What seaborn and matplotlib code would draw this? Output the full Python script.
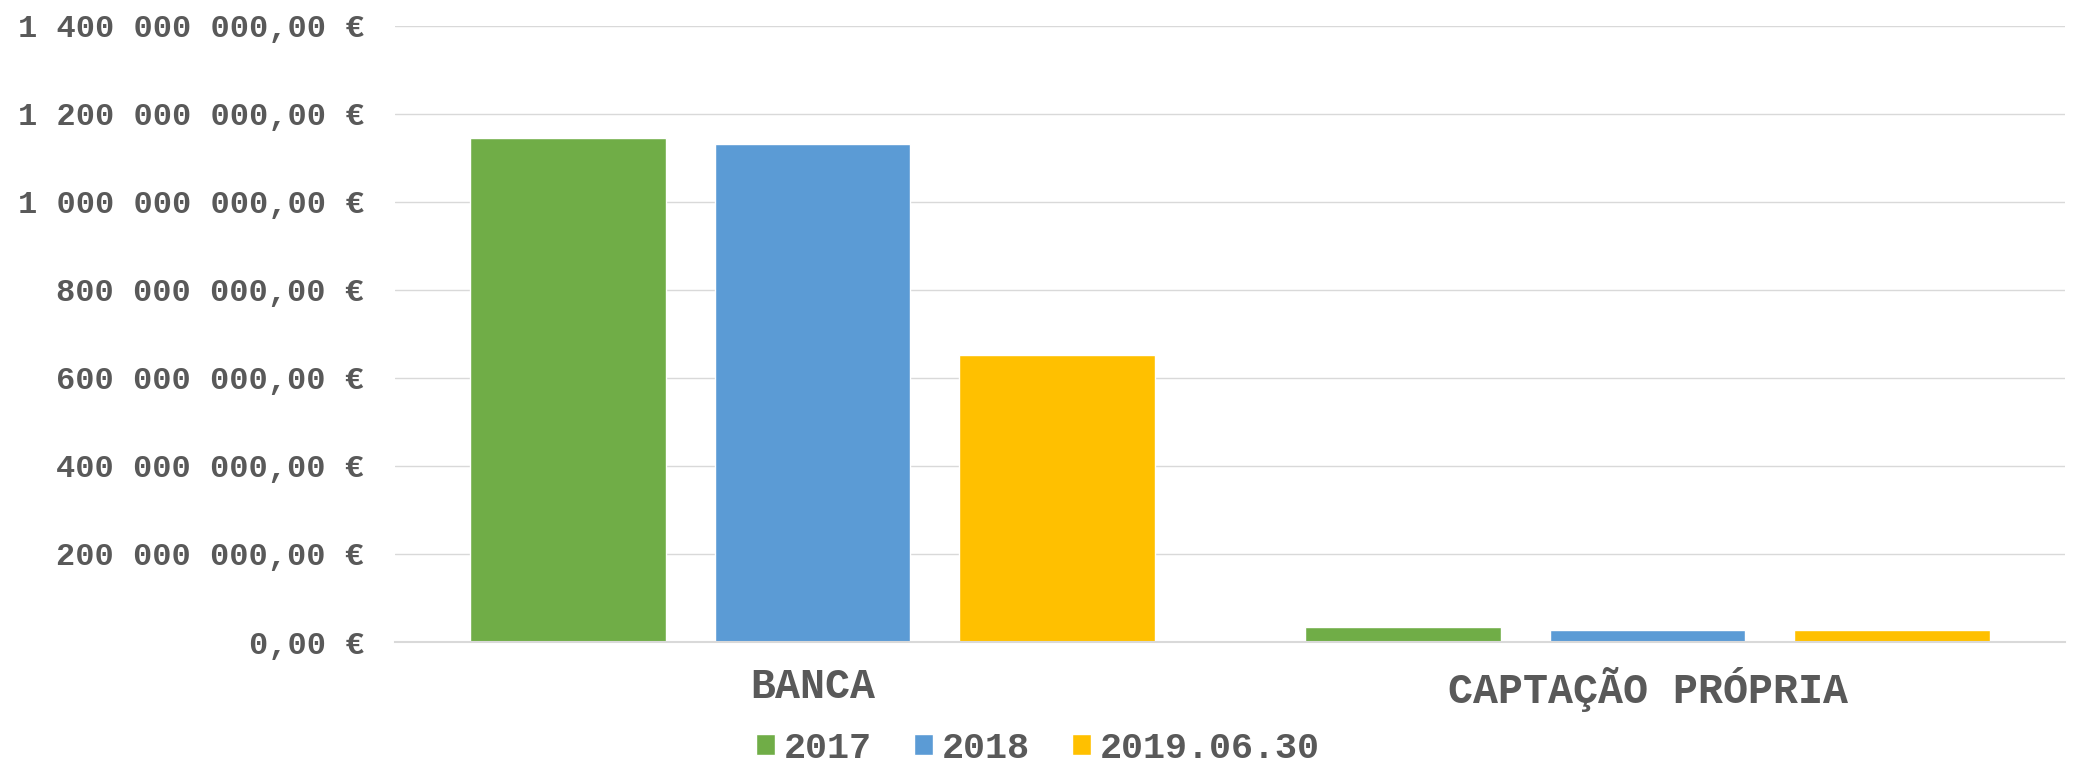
import matplotlib
matplotlib.use("Agg")
import matplotlib.pyplot as plt
from matplotlib.ticker import FuncFormatter, MultipleLocator
import seaborn as sns
import pandas as pd

categories = ["BANCA", "CAPTAÇÃO PRÓPRIA"]
series_names = ["2017", "2018", "2019.06.30"]
values_2017 = [1145000000, 34000000]
values_2018 = [1131000000, 26500000]
values_2019 = [651600000, 27300000]
colors = ["#70AD47", "#5B9BD5", "#FFC000"]

rows = []
for name, vals in zip(series_names, [values_2017, values_2018, values_2019]):
    for c, v in zip(categories, vals):
        rows.append({"cat": c, "serie": name, "valor": v})
df = pd.DataFrame(rows)

sns.set_theme(style="white")
FONT = ["Liberation Mono", "DejaVu Sans Mono"]
plt.rcParams["font.family"] = FONT

fig = plt.figure(figsize=(20.76, 7.62), dpi=100)
ax = fig.add_axes([395 / 2076, 1 - 642 / 762, (2065 - 395) / 2076, (642 - 25.5) / 762])

sns.barplot(data=df, x="cat", y="valor", hue="serie", order=categories,
            hue_order=series_names, palette=colors, width=0.879, gap=0.2,
            saturation=1, ax=ax, legend=True, errorbar=None)

ax.set_ylim(0, 1.4e9)
ax.set_xlim(-0.5, 1.5)
ax.yaxis.set_major_locator(MultipleLocator(2e8))


def fmt(v, pos):
    s = "{:,.2f}".format(v).replace(",", " ").replace(".", ",")
    return s + " €"


ax.yaxis.set_major_formatter(FuncFormatter(fmt))
ax.grid(axis="y", color="#d9d9d9", linewidth=1.0)
ax.set_axisbelow(True)
for s in ["left", "right", "top"]:
    ax.spines[s].set_visible(False)
ax.spines["bottom"].set_color("#d9d9d9")
ax.spines["bottom"].set_linewidth(1.5)
ax.set_xlabel("")
ax.set_ylabel("")
ax.tick_params(axis="y", length=0, pad=22, labelsize=23, labelcolor="#595959")
ax.tick_params(axis="x", length=0, pad=18, labelsize=30, labelcolor="#595959")
for lab in ax.get_yticklabels() + ax.get_xticklabels():
    lab.set_fontweight("bold")

handles, labels = ax.get_legend_handles_labels()
ax.get_legend().remove()
fig.legend(handles, labels, loc="center", bbox_to_anchor=(0.5, 1 - 748 / 762),
           ncol=3, frameon=False, handlelength=0.5, handleheight=0.5,
           handletextpad=0.25, columnspacing=1.15, borderpad=0.0,
           prop={"family": FONT, "weight": "bold", "size": 26.5},
           labelcolor="#595959")

fig.savefig("out.png", dpi=100, facecolor="white")
